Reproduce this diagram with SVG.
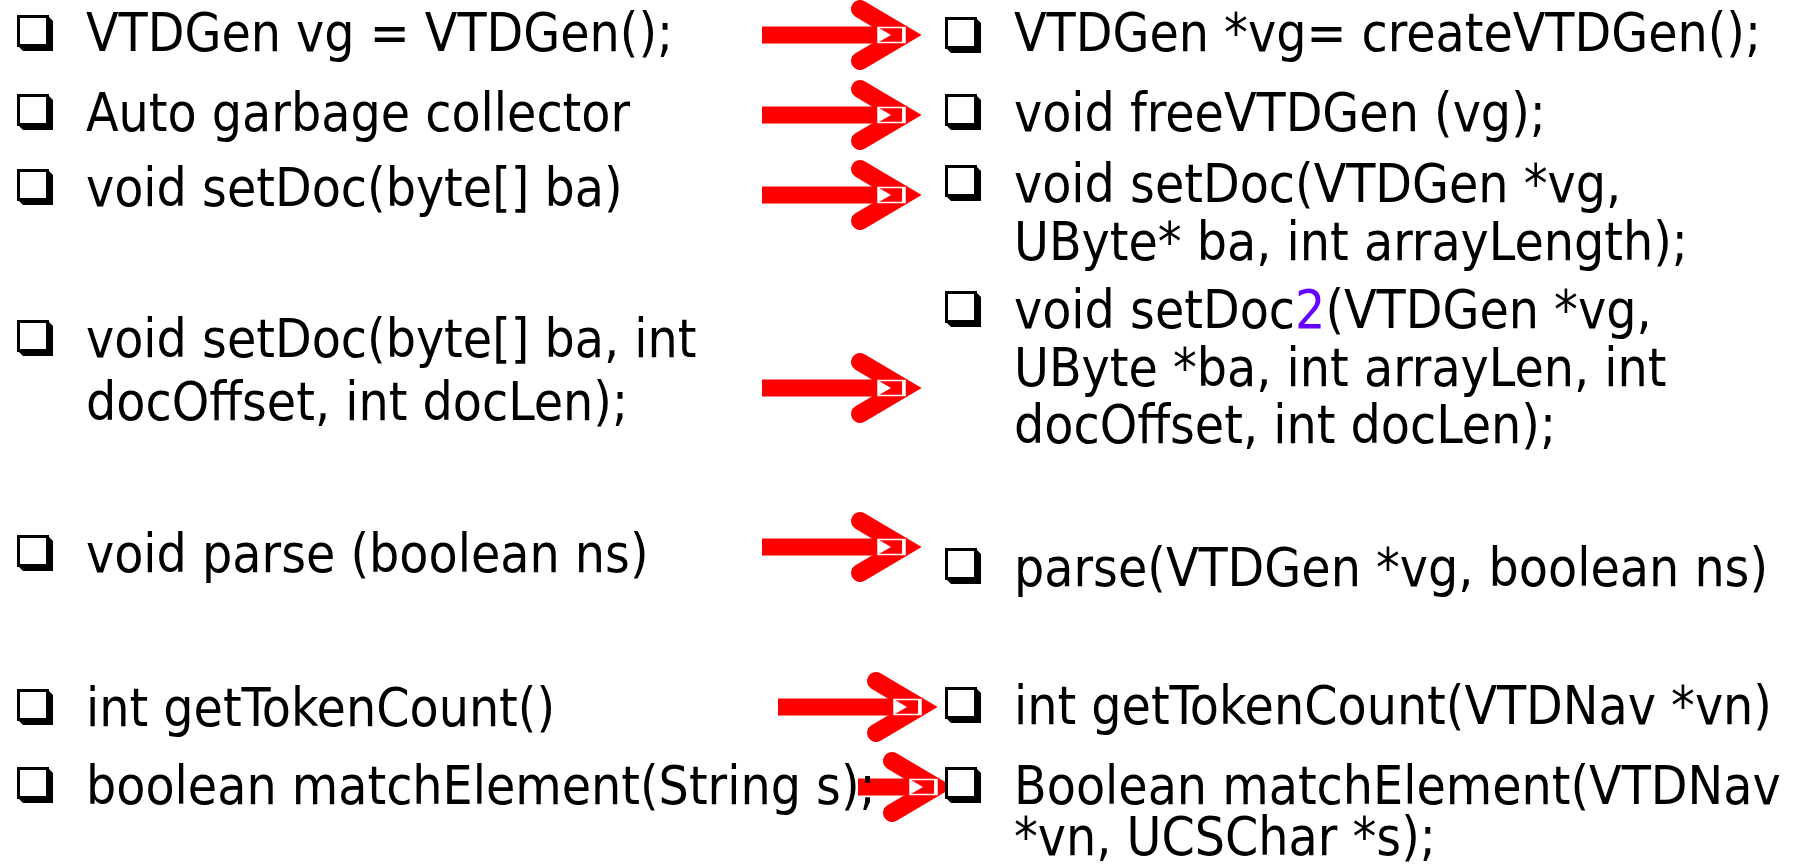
<svg xmlns="http://www.w3.org/2000/svg" width="1794" height="864" viewBox="0 0 1794 864">
<defs>
<style>
.t{font-family:"DejaVu Sans Condensed","DejaVu Sans",sans-serif;font-size:53px;fill:#000}
.p{fill:#6600ff}
.shaft{fill:#ff0000}
.arm{fill:none;stroke:#ff0000;stroke-width:18;stroke-linecap:round;stroke-linejoin:miter;stroke-miterlimit:6}
.wo{fill:none;stroke:#fff;stroke-width:1.5}
</style>
<g id="bul">
<rect x="1.5" y="1.5" width="29" height="29" fill="#fff" stroke="#000" stroke-width="3"/>
<polygon points="32,2 36,6 36,36 6,36 2,32 32,32" fill="#000"/>
</g>
<g id="arrowhead">
<polyline class="arm" points="-61,-26 -17,0 -61,26"/>
<polygon points="-43,-7.5 -43,7.5 -30,0" fill="#fff"/>
<polygon points="-30,0 -19,-7.5 -19,7.5" fill="#ff0000"/>
<rect x="-19" y="-7.5" width="3" height="15" fill="#fff"/>
<rect x="-43" y="-7.5" width="27" height="15" class="wo"/>
</g>
</defs>

<g id="connectors">
<g id="a1"><rect class="shaft" x="762" y="26.5" width="143" height="17"/><use href="#arrowhead" x="921" y="35"/></g>
<g id="a2"><rect class="shaft" x="762" y="106.5" width="143" height="17"/><use href="#arrowhead" x="921" y="115"/></g>
<g id="a3"><rect class="shaft" x="762" y="186.5" width="143" height="17"/><use href="#arrowhead" x="921" y="195"/></g>
<g id="a4"><rect class="shaft" x="762" y="379.5" width="143" height="17"/><use href="#arrowhead" x="921" y="388"/></g>
<g id="a5"><rect class="shaft" x="762" y="538.5" width="143" height="17"/><use href="#arrowhead" x="921" y="547"/></g>
<g id="a6"><rect class="shaft" x="778" y="698.5" width="143" height="17"/><use href="#arrowhead" x="937" y="707"/></g>
<g id="a7"><rect class="shaft" x="858" y="778.5" width="79" height="17"/><use href="#arrowhead" x="953" y="787"/></g>
</g>

<g id="left1"><use href="#bul" x="17" y="15"/><text class="t" x="86" y="51">VTDGen vg = VTDGen();</text></g>
<g id="left2"><use href="#bul" x="17" y="94"/><text class="t" x="86" y="131">Auto garbage collector</text></g>
<g id="left3"><use href="#bul" x="17" y="169"/><text class="t" x="86" y="206">void setDoc(byte[] ba)</text></g>
<g id="left4"><use href="#bul" x="17" y="320"/><text class="t" x="86" y="357">void setDoc(byte[] ba, int</text><text class="t" x="86" y="420">docOffset, int docLen);</text></g>
<g id="left5"><use href="#bul" x="17" y="535"/><text class="t" x="86" y="572">void parse (boolean ns)</text></g>
<g id="left6"><use href="#bul" x="17" y="689"/><text class="t" x="86" y="726">int getTokenCount()</text></g>
<g id="left7"><use href="#bul" x="17" y="767"/><text class="t" x="86" y="804">boolean matchElement(String s);</text></g>

<g id="right1"><use href="#bul" x="945" y="17"/><text class="t" x="1014" y="51">VTDGen *vg= createVTDGen();</text></g>
<g id="right2"><use href="#bul" x="945" y="94"/><text class="t" x="1014" y="131">void freeVTDGen (vg);</text></g>
<g id="right3"><use href="#bul" x="945" y="165"/><text class="t" x="1014" y="202">void setDoc(VTDGen *vg,</text><text class="t" x="1014" y="260">UByte* ba, int arrayLength);</text></g>
<g id="right4"><use href="#bul" x="945" y="291"/><text class="t" x="1014" y="328">void setDoc<tspan class="p">2</tspan>(VTDGen *vg,</text><text class="t" x="1014" y="386">UByte *ba, int arrayLen, int</text><text class="t" x="1014" y="443">docOffset, int docLen);</text></g>
<g id="right5"><use href="#bul" x="945" y="548"/><text class="t" x="1014" y="586">parse(VTDGen *vg, boolean ns)</text></g>
<g id="right6"><use href="#bul" x="945" y="687"/><text class="t" x="1014" y="724">int getTokenCount(VTDNav *vn)</text></g>
<g id="right7"><use href="#bul" x="945" y="767"/><text class="t" x="1014" y="804">Boolean matchElement(VTDNav</text><text class="t" x="1014" y="855">*vn, UCSChar *s);</text></g>
</svg>
